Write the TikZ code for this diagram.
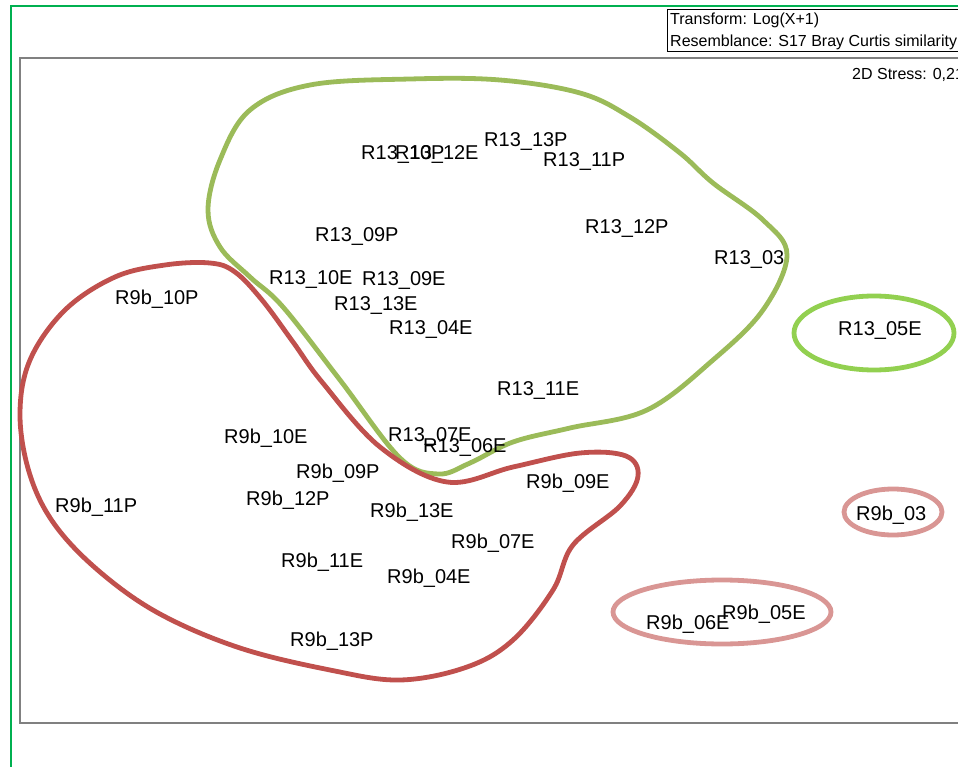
\documentclass[tikz,border=0pt]{standalone}
\usepackage{fontspec}
\setmainfont{Liberation Sans}
\usepackage{xcolor}
\definecolor{grpgreen}{HTML}{9BBB59}
\definecolor{grpred}{HTML}{C0504D}
\definecolor{grplime}{HTML}{92D050}
\definecolor{grppink}{HTML}{D99694}
\definecolor{framegreen}{HTML}{00B050}
\begin{document}
\begin{tikzpicture}[x=1pt,y=-1pt]
    \tikzstyle{site}=[anchor=base west,inner sep=0pt,font=\fontsize{20}{24}\selectfont]
    \tikzstyle{info}=[anchor=base west,inner sep=0pt,font=\fontsize{16}{19}\selectfont]
    \tikzstyle{hull}=[draw,line width=4.8pt]
    \useasboundingbox (0,0) rectangle (958,767);
    \clip (0,0) rectangle (958,767);
    % frames
    \draw[framegreen,line width=2pt] (11,780) -- (11,6) -- (980,6);
    \draw[black!50,line width=1.5pt] (980,58) -- (20,58) -- (20,723) -- (980,723);
    \draw[black,line width=1pt,fill=white] (667,10) rectangle (990,52);
    \node[info] (transform) at (670,25) {Transform: Log(X+1)};
    \node[info] (resemblance) at (670,47) {Resemblance: S17 Bray Curtis similarity};
    \node[info] (stress) at (852,80) {2D Stress: 0,21};
    % groups
    \draw[hull,grpgreen] plot[smooth cycle,tension=0.6] coordinates {
        (500,80) (580,93) (630,117) (680,153) (713,183) (763,220) (787,255)
        (763,310) (713,360) (647,410) (570,428) (513,442) (470,463) (438,474)
        (400,458) (340,380) (283,307) (250,277) (220,247) (208,210) (220,160)
        (250,110) (310,85) (410,79)};
    \draw[hull,grpred] plot[smooth cycle,tension=0.6] coordinates {
        (210,263) (235,272) (262,300) (293,342) (322,382) (380,447) (447,482)
        (513,467) (580,453) (626,456) (638,476) (620,506) (573,545) (553,590)
        (513,640) (467,667) (400,680) (330,670) (240,648) (160,614) (100,572)
        (55,525) (30,475) (20,415) (30,360) (65,310) (115,277) (165,265)};
    \draw[hull,grplime] (874,333) ellipse [x radius=80,y radius=37];
    \draw[hull,grppink] (893,512) ellipse [x radius=49,y radius=23];
    \draw[hull,grppink] (722,612) ellipse [x radius=109,y radius=32];
    % samples R13
    \node[site] (r13_10p) at (361,160) {R13\_10P};
    \node[site] (r13_12e) at (395,160) {R13\_12E};
    \node[site] (r13_13p) at (484,147) {R13\_13P};
    \node[site] (r13_11p) at (543,167) {R13\_11P};
    \node[site] (r13_09p) at (315,242) {R13\_09P};
    \node[site] (r13_12p) at (585,234) {R13\_12P};
    \node[site] (r13_03) at (714,265) {R13\_03};
    \node[site] (r13_10e) at (269,284) {R13\_10E};
    \node[site] (r13_09e) at (362,286) {R13\_09E};
    \node[site] (r13_13e) at (334,310) {R13\_13E};
    \node[site] (r13_04e) at (389,334) {R13\_04E};
    \node[site] (r13_05e) at (838,335) {R13\_05E};
    \node[site] (r13_11e) at (497,395) {R13\_11E};
    \node[site] (r13_07e) at (388,441) {R13\_07E};
    \node[site] (r13_06e) at (423,452) {R13\_06E};
    % samples R9b
    \node[site] (r9b_10p) at (115,304) {R9b\_10P};
    \node[site] (r9b_10e) at (224,443) {R9b\_10E};
    \node[site] (r9b_09p) at (296,478) {R9b\_09P};
    \node[site] (r9b_09e) at (526,488) {R9b\_09E};
    \node[site] (r9b_11p) at (55,512) {R9b\_11P};
    \node[site] (r9b_12p) at (246,505) {R9b\_12P};
    \node[site] (r9b_13e) at (370,517) {R9b\_13E};
    \node[site] (r9b_03) at (856,520) {R9b\_03};
    \node[site] (r9b_07e) at (451,548) {R9b\_07E};
    \node[site] (r9b_11e) at (281,567) {R9b\_11E};
    \node[site] (r9b_04e) at (387,583) {R9b\_04E};
    \node[site] (r9b_06e) at (646,629) {R9b\_06E};
    \node[site] (r9b_05e) at (722,619) {R9b\_05E};
    \node[site] (r9b_13p) at (290,646) {R9b\_13P};
\end{tikzpicture}
\end{document}
